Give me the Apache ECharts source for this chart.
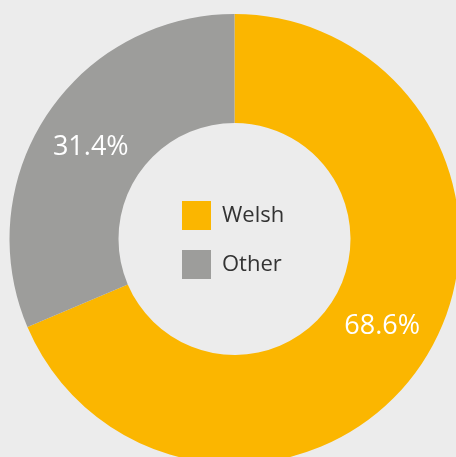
<!DOCTYPE html>
<html><head><meta charset="utf-8">
<script src="https://cdn.jsdelivr.net/npm/echarts@6/dist/echarts.min.js"></script>
<style>html,body{margin:0;padding:0;background:#ececec;}#c{width:456px;height:457px;}</style>
</head><body><div id="c"></div>
<script>
const categories = ["Welsh", "Other"];
const values = [68.6, 31.4];
const colors = ["#fbb600", "#9d9d9b"];
const labelOffsets = [[3, -8], [1, 4]];

const chart = echarts.init(document.getElementById('c'), null, {renderer: 'canvas'});
chart.setOption({
  backgroundColor: '#ececec',
  animation: false,
  legend: {
    orient: 'vertical', left: 182, top: 201, padding: 0,
    itemWidth: 29, itemHeight: 29, itemGap: 20,
    icon: 'rect',
    textStyle: {fontSize: 22, color: '#333', fontFamily: 'Open Sans', padding: [2,0,0,6]},
    data: categories
  },
  series: [{
    type: 'pie',
    center: [234.5, 239],
    radius: [116, 225],
    startAngle: 90,
    clockwise: true,
    avoidLabelOverlap: false,
    label: {show: true, position: 'inside', formatter: p => p.value.toFixed(1) + '%', color: '#fff', fontSize: 27, fontFamily: 'Open Sans'},
    labelLine: {show: false},
    itemStyle: {borderWidth: 0},
    emphasis: {disabled: true},
    data: categories.map((c, i) => ({name: c, value: values[i], itemStyle: {color: colors[i]}, label: {offset: labelOffsets[i]}}))
  }]
});
</script></body></html>
